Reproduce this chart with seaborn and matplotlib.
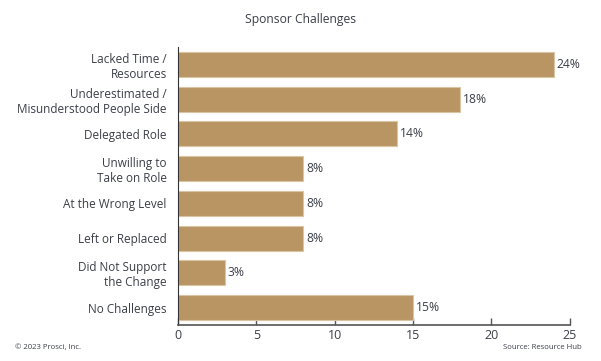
import matplotlib
matplotlib.use("Agg")
import matplotlib.pyplot as plt
import seaborn as sns
import pandas as pd

categories = ["Lacked Time /\nResources", "Underestimated /\nMisunderstood People Side",
              "Delegated Role", "Unwilling to\nTake on Role", "At the Wrong Level",
              "Left or Replaced", "Did Not Support\nthe Change", "No Challenges"]
values = [24, 18, 14, 8, 8, 8, 3, 15]
xticks = [0, 5, 10, 15, 20, 25]

sns.set_theme(style="white")
plt.rcParams['font.family'] = ['Open Sans', 'DejaVu Sans']

txt = "#3b3f48"
df = pd.DataFrame({"cat": categories, "val": values})
fig = plt.figure(figsize=(6.01, 3.61), dpi=100)
ax = fig.add_axes([0.296, 0.0997, 0.652, 0.770])
sns.barplot(data=df, x="val", y="cat", color="#B99564", saturation=1, width=0.72,
            edgecolor="#D9C4A4", linewidth=0.8, ax=ax)
ax.set_xlim(0, 25)
ax.set_ylim(7.5, -0.5)
ax.set_xticks(xticks)
ax.set_xticklabels([str(t) for t in xticks], fontsize=9, color=txt)
ax.tick_params(axis="x", direction="in", length=5, width=1, color="#555555", pad=3, bottom=True)
ax.tick_params(axis="y", length=0, labelsize=8.5, labelcolor=txt, pad=8)
ax.set_xlabel("")
ax.set_ylabel("")
for s in ["top", "right"]:
    ax.spines[s].set_visible(False)
ax.spines["left"].set_color("#333333")
ax.spines["left"].set_linewidth(0.8)
ax.spines["bottom"].set_color("#555555")
ax.spines["bottom"].set_linewidth(1.2)
for i, v in enumerate(values):
    ax.text(v + 0.18, i, f"{v}%", va="center", ha="left", fontsize=8.7, color=txt)
fig.text(0.5, 0.945, "Sponsor Challenges", ha="center", va="center", fontsize=8.7, color=txt)
fig.text(0.025, 0.037, "© 2023 Prosci, Inc.", ha="left", va="center", fontsize=5.6, color=txt)
fig.text(0.968, 0.037, "Source: Resource Hub", ha="right", va="center", fontsize=5.6, color=txt)
fig.savefig("out.png", dpi=100)
